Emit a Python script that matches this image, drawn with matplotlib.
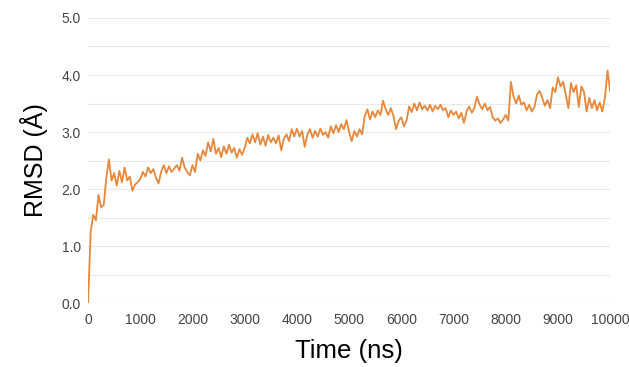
import numpy as np
import matplotlib
matplotlib.use("Agg")
import matplotlib.pyplot as plt

# RMSD trace, one value every 50 ns
time_ns = np.arange(0, 10001, 50)
rmsd = [
    0.00, 1.25, 1.55, 1.45, 1.90, 1.68, 1.72, 2.20, 2.52, 2.15,
    2.28, 2.06, 2.32, 2.12, 2.38, 2.15, 2.22, 1.97, 2.08, 2.12,
    2.18, 2.30, 2.22, 2.38, 2.28, 2.35, 2.20, 2.10, 2.30, 2.42,
    2.28, 2.40, 2.30, 2.36, 2.42, 2.32, 2.55, 2.38, 2.30, 2.24,
    2.42, 2.30, 2.62, 2.50, 2.68, 2.58, 2.82, 2.66, 2.88, 2.62,
    2.72, 2.56, 2.75, 2.62, 2.78, 2.64, 2.72, 2.55, 2.70, 2.60,
    2.72, 2.90, 2.80, 2.96, 2.82, 2.98, 2.78, 2.92, 2.76, 2.95,
    2.82, 2.90, 2.80, 2.94, 2.68, 2.88, 2.96, 2.84, 3.05, 2.92,
    3.06, 2.92, 3.02, 2.74, 2.95, 3.05, 2.90, 3.02, 2.92, 3.06,
    2.95, 3.00, 2.90, 3.10, 2.98, 3.12, 3.00, 3.14, 3.05, 3.21,
    3.00, 2.84, 3.02, 2.92, 3.05, 2.96, 3.28, 3.40, 3.22, 3.36,
    3.26, 3.38, 3.30, 3.55, 3.40, 3.30, 3.42, 3.28, 3.05, 3.20,
    3.26, 3.10, 3.20, 3.45, 3.35, 3.50, 3.38, 3.52, 3.40, 3.46,
    3.38, 3.48, 3.36, 3.46, 3.40, 3.48, 3.38, 3.42, 3.26, 3.38,
    3.30, 3.36, 3.24, 3.34, 3.16, 3.36, 3.45, 3.34, 3.42, 3.62,
    3.48, 3.40, 3.50, 3.38, 3.44, 3.26, 3.20, 3.24, 3.16, 3.22,
    3.30, 3.20, 3.88, 3.62, 3.50, 3.64, 3.48, 3.52, 3.38, 3.48,
    3.36, 3.44, 3.66, 3.72, 3.60, 3.46, 3.56, 3.42, 3.78, 3.70,
    3.96, 3.80, 3.88, 3.66, 3.42, 3.86, 3.70, 3.82, 3.44, 3.80,
    3.70, 3.36, 3.60, 3.42, 3.56, 3.38, 3.52, 3.36, 3.60, 4.08,
    3.72,
]

x_ticks = list(range(0, 10001, 1000))
y_ticks = [0.0, 1.0, 2.0, 3.0, 4.0, 5.0]

plt.rcParams['font.family'] = ['Liberation Sans', 'DejaVu Sans']

fig = plt.figure(figsize=(6.29, 3.67), dpi=100)
ax = fig.add_axes([0.140, 0.174, 0.830, 0.777])

ax.plot(time_ns, rmsd, color='#e8883a', linewidth=1.3)

ax.set_xlim(0, 10000)
ax.set_ylim(0, 5)
ax.set_xticks(x_ticks)
ax.set_yticks(y_ticks)
ax.set_yticklabels([f"{v:.1f}" for v in y_ticks])
ax.set_yticks(np.arange(0.5, 5, 1.0), minor=True)
ax.grid(True, which='both', axis='y', color='#e9e9e9', linewidth=0.8)
ax.set_axisbelow(True)

for s in ax.spines.values():
    s.set_visible(False)
ax.tick_params(axis='both', which='both', length=0, labelsize=10, labelcolor='#444444')
ax.tick_params(axis='x', pad=7)
ax.tick_params(axis='y', pad=5)

ax.set_xlabel('Time (ns)', fontsize=18.5, labelpad=9)
ax.set_ylabel('RMSD (Å)', fontsize=18, labelpad=10)

fig.savefig('out.png', dpi=100)
